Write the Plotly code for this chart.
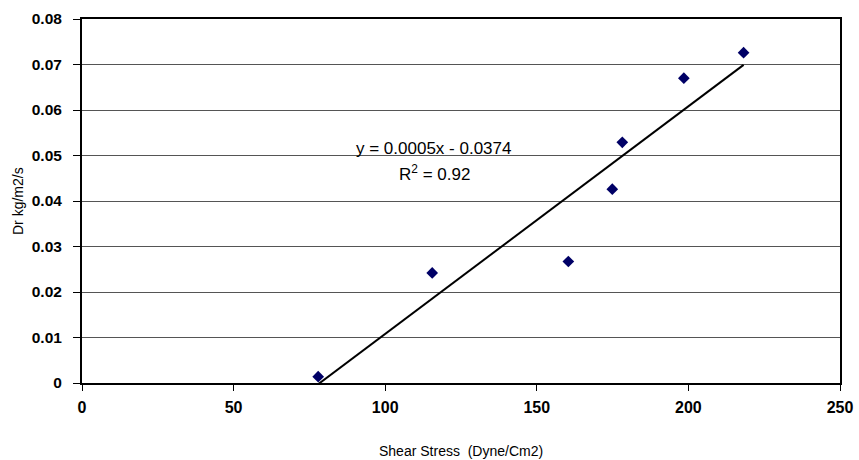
import numpy as np
import plotly.graph_objects as go

shear_stress = [77.9, 115.5, 160.4, 174.9, 178.2, 198.5, 218.2]
dr_values = [0.0014, 0.0242, 0.0267, 0.0426, 0.0529, 0.0670, 0.0726]
x_ticks = [0, 50, 100, 150, 200, 250]
y_ticks = [0, 0.01, 0.02, 0.03, 0.04, 0.05, 0.06, 0.07, 0.08]
y_tick_labels = ["0", "0.01", "0.02", "0.03", "0.04", "0.05", "0.06", "0.07", "0.08"]
equation_text = "y = 0.0005x - 0.0374"
r2_text = "R<sup>2</sup> = 0.92"
x_title = "Shear Stress  (Dyne/Cm2)"
y_title = "Dr kg/m2/s"

slope, intercept = np.polyfit(shear_stress, dr_values, 1)
x_line = [min(shear_stress), max(shear_stress)]
y_line = [slope * v + intercept for v in x_line]

FONT = "Liberation Sans, Arial"

fig = go.Figure()
fig.add_trace(go.Scatter(x=x_line, y=y_line, mode="lines",
                         line=dict(color="black", width=2), showlegend=False, hoverinfo="skip"))
fig.add_trace(go.Scatter(x=shear_stress, y=dr_values, mode="markers",
                         marker=dict(symbol="diamond", size=9, color="#000066"),
                         showlegend=False))

fig.add_annotation(x=115.8, y=0.0516, text=equation_text, showarrow=False,
                   xanchor="center", yanchor="middle",
                   font=dict(family=FONT, size=17, color="black"))
fig.add_annotation(x=116.3, y=0.0462, text=r2_text, showarrow=False,
                   xanchor="center", yanchor="middle",
                   font=dict(family=FONT, size=17, color="black"))

fig.add_annotation(xref="paper", yref="paper", x=0.5, y=-0.187, text=x_title,
                   xanchor="center", yanchor="middle",
                   showarrow=False, font=dict(family=FONT, size=14, color="black"))
fig.add_annotation(xref="paper", yref="paper", x=-0.0844, y=0.5, text=y_title,
                   xanchor="center", yanchor="middle",
                   textangle=-90, showarrow=False, font=dict(family=FONT, size=14, color="black"))

fig.update_layout(
    width=859, height=460,
    margin=dict(l=82, r=19, t=19, b=77, autoexpand=False),
    paper_bgcolor="white", plot_bgcolor="white",
    font=dict(family=FONT, color="black"),
)
fig.update_xaxes(range=[0, 250], tickvals=x_ticks, ticks="outside", ticklen=6,
                 tickcolor="black", showgrid=False, zeroline=False, automargin=False,
                 showline=True, linecolor="black", linewidth=2, mirror=True,
                 ticklabelstandoff=3,
                 tickfont=dict(size=16, family=FONT, weight="bold"))
fig.update_yaxes(range=[0, 0.08], tickvals=y_ticks, ticktext=y_tick_labels, ticks="outside",
                 ticklen=7, tickcolor="black", showgrid=True, gridcolor="#555555", gridwidth=1,
                 zeroline=False, showline=True, linecolor="black", linewidth=2, mirror=True,
                 automargin=False, ticklabelstandoff=8,
                 tickfont=dict(size=15.5, family=FONT, weight="bold"))

fig.write_html("out.html", config={"displayModeBar": False},
               post_script="document.body.style.margin='0';")
